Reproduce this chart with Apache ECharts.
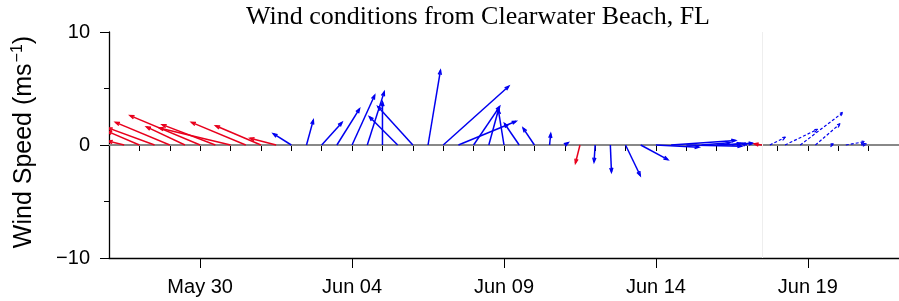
<!DOCTYPE html>
<html><head><meta charset="utf-8">
<script src="https://cdn.jsdelivr.net/npm/echarts@6/dist/echarts.min.js"></script>
<style>html,body{margin:0;padding:0;background:#fff}#c{width:899px;height:301px}</style>
</head><body><div id="c"></div>
<script>
// ---- data ----
const year = 2023;
const obsTimes = ['05-27 00','05-27 12','05-28 00','05-28 12','05-29 00','05-29 12','05-30 00','05-30 12','05-31 00','05-31 12',
  '06-01 00','06-01 12','06-02 00','06-02 12','06-03 00','06-03 12','06-04 00','06-04 12','06-05 00','06-05 12',
  '06-06 00','06-06 12','06-07 00','06-07 12','06-08 00','06-08 12','06-09 00','06-09 12','06-10 00','06-10 12',
  '06-11 00','06-11 12','06-12 00','06-12 12','06-13 00','06-13 12','06-14 00','06-14 12','06-15 00','06-15 12',
  '06-16 00','06-16 12','06-17 00','06-17 12'];
const obsU = [-0.6,-1.4,-2.8,-4.1,-4.8,-3.4,-6.2,-4.7,-6.3,-4.8,
  -4.0,-2.3,-1.6,0.6,1.8,2.0,2.0,1.5,0.0,-2.5,
  -3.1,1.1,5.8,5.1,2.3,0.9,-0.5,-1.3,-1.0,0.1,
  0.3,-0.4,-0.1,0.1,1.3,2.4,3.8,5.7,4.9,2.5,
  3.2,0.8,-0.5,-0.7];
const obsV = [0.2,0.35,1.2,1.5,2.0,1.6,2.6,1.8,1.5,2.0,
  1.7,0.6,1.0,2.2,2.0,3.2,4.4,4.7,3.8,2.5,
  3.4,6.6,5.2,2.1,3.4,3.3,3.1,1.9,1.5,1.0,
  0.2,-1.6,-1.5,-2.4,-2.7,-1.3,-0.2,0.4,-0.1,0.2,
  0.15,0.15,0.15,0.1];
const obsSource = ['r','r','r','r','r','r','r','r','r','r',
  'r','r','b','b','b','b','b','b','b','b',
  'b','b','b','b','b','b','b','b','b','b',
  'b','r','b','b','b','b','b','b','b','b',
  'b','b','b','r'];
const fcTimes = ['06-17 18','06-18 06','06-18 18','06-19 06','06-19 18','06-20 06','06-20 18'];
const fcU = [1.4,2.9,3.8,2.2,0.3,1.7,0.5];
const fcV = [0.7,1.4,2.9,1.9,0.1,0.3,0.1];
const xTickTimes = ['05-30 00','06-04 00','06-09 00','06-14 00','06-19 00'];
const xTickLabels = ['May 30','Jun 04','Jun 09','Jun 14','Jun 19'];
const xStart = '05-27 00', xEnd = '06-22 00', nowTime = '06-17 12';
const yTicks = [-10, 0, 10];
const titleText = 'Wind conditions from Clearwater Beach, FL';

// ---- helpers ----
function ms(s){ const [d,t]=s.split(' '); const [M,D]=d.split('-').map(Number); return Date.UTC(year,M-1,D,Number(t)); }
const DAY = 86400000;
const xMin = ms(xStart), xMax = ms(xEnd);
const dailyTicks = []; for (let t = xMin; t <= xMax; t += DAY) dailyTicks.push(t);
const tickMs = xTickTimes.map(ms);
const RED = '#e8001c', BLUE = '#0000f0';

const obsData = obsTimes.map((t,i)=>[ms(t), obsU[i], obsV[i], obsSource[i]==='r'?1:0]);
const fcData = fcTimes.map((t,i)=>[ms(t), fcU[i], fcV[i], 0]);

function stick(dashed){
  return function(params, api){
    const t = api.value(0), u = api.value(1), v = api.value(2), c = api.value(3);
    const p0 = api.coord([t, 0]);
    const k = api.size([0, 1])[1];
    const p1 = [p0[0] + u*k, p0[1] - v*k];
    const ang = Math.atan2(p1[1]-p0[1], p1[0]-p0[0]);
    const hl = 4.5, ha = 0.35;
    const h1 = [p1[0]-hl*Math.cos(ang-ha), p1[1]-hl*Math.sin(ang-ha)];
    const h2 = [p1[0]-hl*Math.cos(ang+ha), p1[1]-hl*Math.sin(ang+ha)];
    const style = {stroke: c===1?RED:BLUE, fill: null, lineWidth: dashed?1.2:1.5, lineDash: dashed?[3,2]:null};
    return {type:'group', children:[
      {type:'polyline', shape:{points:[p0,p1]}, style: style},
      {type:'polyline', shape:{points:[h1,p1,h2]}, style: style}
    ]};
  };
}

const chart = echarts.init(document.getElementById('c'), null, {renderer:'canvas'});
chart.setOption({
  animation: false,
  backgroundColor: '#fff',
  grid: {left:109, right:0, top:32, bottom:43, containLabel:false},
  xAxis: [{
    type:'value', min:xMin, max:xMax,
    axisLine:{show:true, onZero:false, lineStyle:{color:'#000', width:1.3}},
    axisTick:{show:true, customValues: tickMs, length:10, lineStyle:{color:'#000', width:1}},
    axisLabel:{show:true, customValues: tickMs, margin:19, fontSize:20, color:'#000', fontFamily:'Liberation Sans',
      formatter: v => xTickLabels[tickMs.indexOf(v)] || ''},
    splitLine:{show:false}
  },{
    type:'value', min:xMin, max:xMax, position:'bottom',
    axisLine:{show:false},
    axisTick:{show:true, customValues: dailyTicks, length:6, lineStyle:{color:'#000', width:1}},
    axisLabel:{show:false}, splitLine:{show:false}
  }],
  yAxis: {
    type:'value', min:yTicks[0], max:yTicks[2], interval:10,
    axisLine:{show:true, lineStyle:{color:'#000', width:1.3}},
    axisTick:{show:true, length:9, lineStyle:{color:'#000'}},
    minorTick:{show:true, splitNumber:2, length:5, lineStyle:{color:'#000'}},
    axisLabel:{margin:19, fontSize:20, color:'#000', fontFamily:'Liberation Sans',
      formatter: v => v<0 ? '\u2212'+Math.abs(v) : String(v)},
    splitLine:{show:false}
  },
  graphic: [
    {type:'text', x:478, y:17, style:{text:titleText, font:'26px "Liberation Serif"', fill:'#000', align:'center', verticalAlign:'middle'}},
    {type:'text', x:23, y:142, rotation:Math.PI/2,
      style:{text:'{a|Wind Speed (ms}{s|\u22121}{a|)}', align:'center', verticalAlign:'middle', fill:'#000',
        rich:{a:{fontSize:25, fontFamily:'Liberation Sans', lineHeight:27, verticalAlign:'bottom'},
              s:{fontSize:16, fontFamily:'Liberation Sans', lineHeight:27, verticalAlign:'top', padding:[0,0,0,1]}}}}
  ],
  series: [
    {type:'line', data:[[xMin,0],[xMax,0]], symbol:'none', silent:true, z:1,
      lineStyle:{color:'#888', width:1.8},
      markLine:{silent:true, symbol:'none', label:{show:false}, lineStyle:{color:'#eeeeee', width:1, type:'solid'},
        data:[{xAxis: ms(nowTime)}]}},
    {type:'custom', renderItem: stick(false), data: obsData, encode:{x:0, y:2}, clip:true, z:3},
    {type:'custom', renderItem: stick(true), data: fcData, encode:{x:0, y:2}, clip:true, z:3}
  ]
});
</script></body></html>
